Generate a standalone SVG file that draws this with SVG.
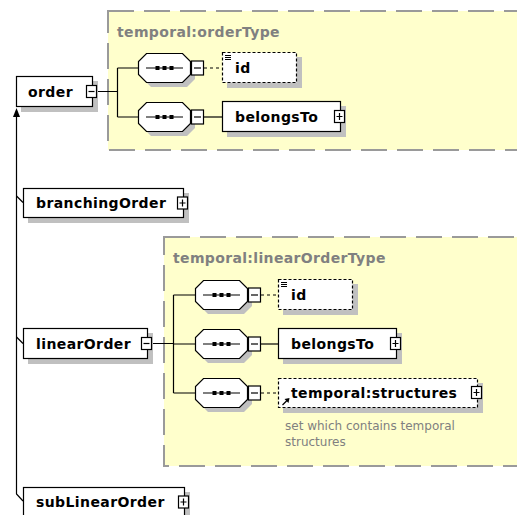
<svg xmlns="http://www.w3.org/2000/svg" xmlns:xlink="http://www.w3.org/1999/xlink" width="517" height="515" viewBox="0 0 517 515">
  <style>
    .type { fill: #ffffcc; stroke: #9a9a9a; stroke-width: 2; stroke-dasharray: 26 10; }
    .box { fill: #ffffff; stroke: #000000; stroke-width: 1.2; }
    .opt { fill: #ffffff; stroke: #000000; stroke-width: 1.2; stroke-dasharray: 3 2; }
    .shadow { fill: #c0c0c0; }
    .btn { fill: #ffffff; stroke: #000000; stroke-width: 1.2; }
    .ln { fill: none; stroke: #000000; stroke-width: 1.2; }
    .dash { stroke-dasharray: 3 3; }
    .name { font-family: "DejaVu Sans", Verdana, sans-serif; font-weight: bold; font-size: 14px; letter-spacing: 0.4px; fill: #000000; }
    .title { font-family: "DejaVu Sans", Verdana, sans-serif; font-weight: bold; font-size: 14px; letter-spacing: 0.35px; fill: #808080; }
    .doc { font-family: "DejaVu Sans", Tahoma, sans-serif; font-size: 12px; fill: #808080; }
  </style>
  <defs>
    <!-- sequence compositor: octagon with dots and a collapse button -->
    <symbol id="seq" overflow="visible">
      <path class="shadow" d="M13,5 H49 L57,13 V26 L49,34 H13 L5,26 V13 Z"/>
      <path class="box" d="M8.5,0.5 H44.5 L52.5,8.5 V21.5 L44.5,29.5 H8.5 L0.5,21.5 V8.5 Z"/>
      <path class="ln" d="M8,15 H45" stroke-width="1.5"/>
      <rect x="17.5" y="13" width="4" height="4" fill="#000"/>
      <rect x="24.5" y="13" width="4" height="4" fill="#000"/>
      <rect x="31.5" y="13" width="4" height="4" fill="#000"/>
      <rect class="btn" x="53.5" y="8" width="12" height="14"/>
      <path class="ln" d="M56,15 H63"/>
    </symbol>
    <!-- small element buttons -->
    <symbol id="minus" overflow="visible">
      <rect class="btn" x="0.5" y="0.5" width="10" height="12"/>
      <path class="ln" d="M2.5,6.5 H8.5"/>
    </symbol>
    <symbol id="plus" overflow="visible">
      <rect class="btn" x="0.5" y="0.5" width="10" height="12"/>
      <path class="ln" d="M2.5,6.5 H8.5 M5.5,3 V10"/>
    </symbol>
    <!-- attribute-like marker at the top left of a box -->
    <symbol id="lines" overflow="visible">
      <path class="ln" d="M0,0.5 H6 M0,2.5 H6 M0,4.5 H6" stroke-width="1"/>
    </symbol>
  </defs>

  <!-- complex type containers -->
  <g id="orderType">
    <rect class="type" x="108" y="11" width="430" height="139"/>
    <text class="title" x="117" y="37">temporal:orderType</text>
  </g>
  <g id="linearOrderType">
    <rect class="type" x="164" y="237" width="374" height="229"/>
    <text class="title" x="173" y="263">temporal:linearOrderType</text>
  </g>

  <!-- connectors -->
  <g id="connectors">
    <path class="ln" d="M16.5,114 V494 L23,501"/>
    <polygon points="16.5,108 13,117 20,117" fill="#000"/>
    <path class="ln" d="M16.5,196 L23,202.5"/>
    <path class="ln" d="M16.5,337 L23,343.5"/>
    <!-- order content -->
    <path class="ln" d="M97,91.5 H117.5 M117.5,68 V117 M117.5,68 H138 M117.5,117 H138"/>
    <path class="ln dash" d="M204,68 H222"/>
    <path class="ln" d="M204,117 H222"/>
    <!-- linearOrder content -->
    <path class="ln" d="M152,343.5 H173.5 M173.5,295 V393 M173.5,295 H195 M173.5,344 H195 M173.5,393 H195"/>
    <path class="ln dash" d="M261,295 H278"/>
    <path class="ln" d="M261,344 H278"/>
    <path class="ln dash" d="M261,393 H278"/>
  </g>

  <!-- top level elements -->
  <g id="order">
    <rect class="shadow" x="21" y="81" width="77" height="31"/>
    <rect class="box" x="16.5" y="76.5" width="76" height="30"/>
    <text class="name" x="28" y="97">order</text>
    <use xlink:href="#minus" x="86" y="85"/>
  </g>
  <g id="branchingOrder">
    <rect class="shadow" x="28" y="193" width="161" height="30"/>
    <rect class="box" x="23.5" y="188.5" width="160" height="29"/>
    <text class="name" x="36" y="208">branchingOrder</text>
    <use xlink:href="#plus" x="177" y="196.5"/>
  </g>
  <g id="linearOrder">
    <rect class="shadow" x="28" y="333" width="125" height="31"/>
    <rect class="box" x="23.5" y="328.5" width="124" height="30"/>
    <text class="name" x="36" y="349">linearOrder</text>
    <use xlink:href="#minus" x="141" y="337"/>
  </g>
  <g id="subLinearOrder">
    <rect class="shadow" x="28" y="492" width="162" height="31"/>
    <rect class="box" x="23.5" y="487.5" width="161" height="30"/>
    <text class="name" x="36" y="507">subLinearOrder</text>
    <use xlink:href="#plus" x="178" y="495.5"/>
  </g>

  <!-- orderType content -->
  <g id="orderType-seq1"><use xlink:href="#seq" x="138" y="53"/></g>
  <g id="orderType-seq2"><use xlink:href="#seq" x="138" y="102"/></g>
  <g id="orderType-id">
    <rect class="shadow" x="227" y="57" width="75" height="31"/>
    <rect class="opt" x="222.5" y="52.5" width="74" height="30"/>
    <use xlink:href="#lines" x="225" y="55"/>
    <text class="name" x="235" y="73">id</text>
  </g>
  <g id="orderType-belongsTo">
    <rect class="shadow" x="227" y="106" width="119" height="31"/>
    <rect class="box" x="222.5" y="101.5" width="118" height="30"/>
    <text class="name" x="235" y="122">belongsTo</text>
    <use xlink:href="#plus" x="334" y="110"/>
  </g>

  <!-- linearOrderType content -->
  <g id="linearOrderType-seq1"><use xlink:href="#seq" x="195" y="280"/></g>
  <g id="linearOrderType-seq2"><use xlink:href="#seq" x="195" y="329"/></g>
  <g id="linearOrderType-seq3"><use xlink:href="#seq" x="195" y="378"/></g>
  <g id="linearOrderType-id">
    <rect class="shadow" x="283" y="284" width="75" height="31"/>
    <rect class="opt" x="278.5" y="279.5" width="74" height="30"/>
    <use xlink:href="#lines" x="281" y="282"/>
    <text class="name" x="291" y="300">id</text>
  </g>
  <g id="linearOrderType-belongsTo">
    <rect class="shadow" x="283" y="333" width="119" height="31"/>
    <rect class="box" x="278.5" y="328.5" width="118" height="30"/>
    <text class="name" x="291" y="349">belongsTo</text>
    <use xlink:href="#plus" x="390" y="337"/>
  </g>
  <g id="linearOrderType-structures">
    <rect class="shadow" x="283" y="383" width="200" height="30"/>
    <rect class="opt" x="278.5" y="378.5" width="199" height="29"/>
    <path class="ln" d="M282.5,405 L288,399.5" stroke-width="1.5"/>
    <polygon points="289.5,398 284.5,399 288.5,403" fill="#000"/>
    <text class="name" x="291" y="398">temporal:structures</text>
    <use xlink:href="#plus" x="471" y="386"/>
    <text class="doc" x="285" y="430">set which contains temporal</text>
    <text class="doc" x="285" y="446">structures</text>
  </g>
</svg>
